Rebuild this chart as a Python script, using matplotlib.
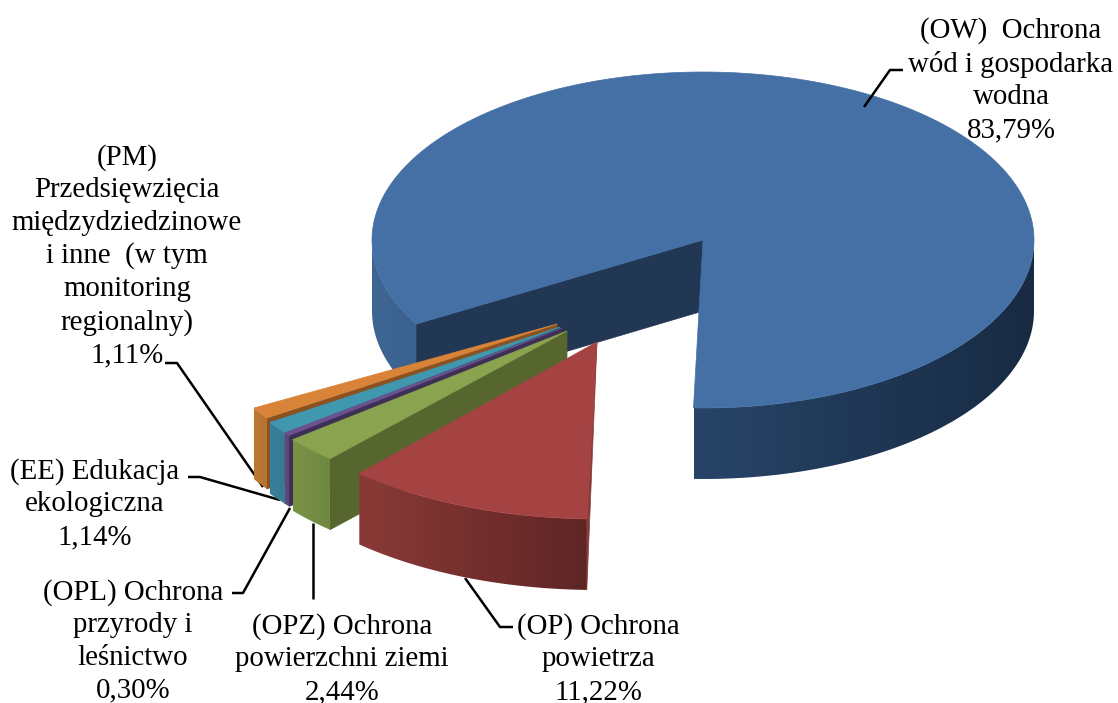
import numpy as np
import matplotlib
matplotlib.use('Agg')
import matplotlib.pyplot as plt
from matplotlib.colors import to_rgb
from matplotlib.patches import Polygon

values = [83.79, 11.22, 2.44, 0.30, 1.14, 1.11]
labels = [
    '(OW)  Ochrona\nwód i gospodarka\nwodna\n83,79%',
    '(OP) Ochrona\npowietrza\n11,22%',
    '(OPZ) Ochrona\npowierzchni ziemi\n2,44%',
    '(OPL) Ochrona\nprzyrody i\nleśnictwo\n0,30%',
    '(EE) Edukacja\nekologiczna\n1,14%',
    '(PM)\nPrzedsięwzięcia\nmiędzydziedzinowe\ni inne  (w tym\nmonitoring\nregionalny)\n1,11%',
]

start = 240.0  # degrees clockwise from top
depth = 71

# apex x, apex y, rx, ry for each slice, in pixels
geom = [
    (703, 240, 331, 168),
    (597, 342, 355, 177),
    (567, 331, 354, 172),
    (562, 328, 352, 170),
    (560, 327, 350, 171),
    (557, 324, 350, 168),
]
top_col = ['#4470a5', '#a54342', '#8aa34f', '#6d5190', '#3f98b0', '#d98339']
side_col = ['#223754', '#8a3a3a', '#57662f', '#3e2f57', '#2b6272', '#8a5222']
wall_from = ['#274468', '#8a3a36', '#7a9246', '#60497f', '#38809a', '#bf7733']
wall_to = ['#182b43', '#5f2525', '#6f8840', '#5a4578', '#357c92', '#b87230']

label_pos = [(1011, 80), (598, 659), (342, 659), (133, 641), (95, 504), (127, 256)]
leaders = [
    [(864, 107), (890, 70), (903, 70)],
    [(465, 578), (500, 627), (513, 627)],
    [(313, 523), (313, 599)],
    [(290, 508), (243, 593), (232, 593)],
    [(280, 500), (200, 477), (188, 477)],
    [(263, 487), (177, 363), (165, 363)],
]


def pts(g, a):
    t = np.radians(a)
    return g[0] + g[2] * np.sin(t), g[1] - g[3] * np.cos(t)


def wall(ax, g, a1, a2, c1, c2, z):
    # outer wall of a slice, shaded along x from c1 (at a1) to c2 (at a2)
    ang = np.linspace(a1, a2, 120)
    x, y = pts(g, ang)
    if x[0] > x[-1]:
        x0, x1, left, right = x[-1], x[0], c2, c1
    else:
        x0, x1, left, right = x[0], x[-1], c1, c2
    f = np.linspace(0, 1, 64)[None, :, None]
    img = np.array(to_rgb(left))[None, None, :] * (1 - f) + np.array(to_rgb(right))[None, None, :] * f
    y0, y1 = y.min(), y.max() + depth
    im = ax.imshow(img, extent=(x0, x1, y1, y0), aspect='auto', interpolation='bilinear', zorder=z)
    poly = Polygon(np.c_[np.r_[x, x[::-1]], np.r_[y, y[::-1] + depth]], closed=True,
                   transform=ax.transData, fc='none', ec='none')
    ax.add_patch(poly)
    im.set_clip_path(poly)


def top(ax, g, a1, a2, c, z):
    ang = np.linspace(a1, a2, 200)
    x, y = pts(g, ang)
    ax.fill(np.r_[g[0], x], np.r_[g[1], y], color=c, lw=0.5, zorder=z)


fig = plt.figure(figsize=(11.18, 7.03), dpi=100)
ax = fig.add_axes([0, 0, 1, 1])
ax.axis('off')

edges = start + np.cumsum([0] + values) * 3.6

# the big slice
g = geom[0]
a1, a2 = edges[0], edges[1]
wall(ax, g, 270, a1, '#3f6592', '#3c6290', 1)
wall(ax, g, a2, 90 + 360, wall_from[0], wall_to[0], 1)
x, y = pts(g, a1)
ax.fill([g[0], x, x, g[0]], [g[1], y, y + depth + 1, g[1] + depth], color=side_col[0], lw=0.5, zorder=2)
top(ax, g, a1, a2, top_col[0], 3)

# the small ones are drawn far to near
for i in [5, 4, 3, 2, 1]:
    g = geom[i]
    z = 10 + (5 - i) * 3
    a1, a2 = edges[i] - 360, edges[i + 1] - 360
    x, y = pts(g, a1)
    if i == 1:
        ax.fill([g[0], x, x], [g[1], y, y + depth], color=side_col[i], lw=0.5, zorder=z)
    else:
        ax.fill([g[0], x, x, g[0]], [g[1], y, y + depth, g[1] + depth], color=side_col[i], lw=0.5, zorder=z)
    wall(ax, g, a1, a2, wall_to[i], wall_from[i], z + 1)
    top(ax, g, a1, a2, top_col[i], z + 2)

for line in leaders:
    xs, ys = zip(*line)
    ax.plot(xs, ys, color='black', lw=1.8, zorder=5, solid_capstyle='butt')

for lab, (x, y) in zip(labels, label_pos):
    ax.text(x, y, lab, ha='center', va='center', family='Liberation Serif', fontsize=20.8,
            linespacing=1.33, color='black', zorder=30)

ax.set_xlim(0, 1118)
ax.set_ylim(703, 0)
fig.savefig('out.png', dpi=100)
